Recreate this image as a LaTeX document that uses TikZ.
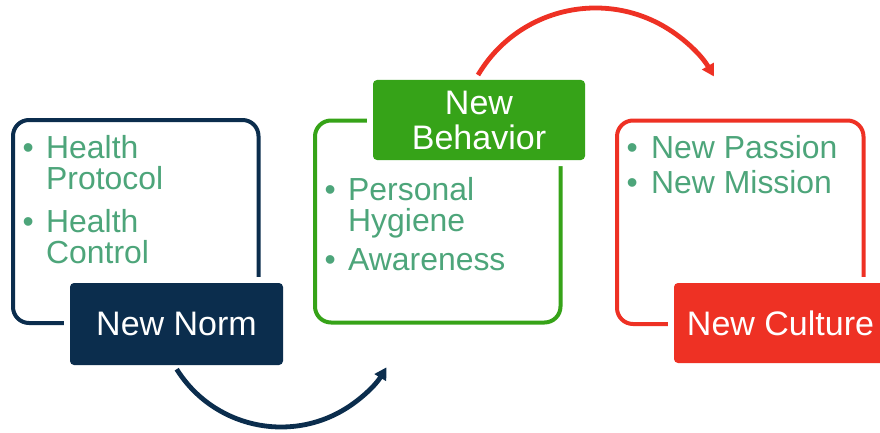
\documentclass[tikz,border=0pt]{standalone}
\usepackage{fontspec}
\setmainfont{Liberation Sans}
\usetikzlibrary{arrows.meta}
\definecolor{navy}{HTML}{0B2D4D}
\definecolor{grn}{HTML}{36A318}
\definecolor{rd}{HTML}{EE3124}
\definecolor{txtg}{HTML}{4DA57A}
\tikzset{
  frame/.style={draw, line width=4pt, rounded corners=16pt, inner sep=0pt},
  tag/.style={rounded corners=4pt, text=white, inner sep=0pt,
    font=\fontsize{34}{35}\selectfont, align=center,
    preaction={draw=white, line width=12pt}},
  itm/.style={anchor=base west, inner sep=0pt, text=txtg,
    font=\fontsize{31.9}{31}\selectfont},
  flow/.style={line width=4.8pt, -{Triangle[length=12pt,width=13pt]}}
}
\begin{document}
\begin{tikzpicture}[x=1pt,y=1pt]
\useasboundingbox (0,0) rectangle (880,432);
\clip (0,0) rectangle (880,432);
% frames
\node[frame, draw=navy, minimum width=245.5pt, minimum height=203pt] (f1) at (135.75,210.5) {};
\node[frame, draw=grn, minimum width=245.5pt, minimum height=202pt] (f2) at (437.75,210.5) {};
\node[frame, draw=rd, minimum width=246.5pt, minimum height=203.5pt] (f3) at (740.25,209.75) {};
% labels
\node[tag, fill=navy, minimum width=213pt, minimum height=82pt] (l1) at (176.5,108) {New Norm};
\node[tag, fill=grn, minimum width=212pt, minimum height=80pt] (l2) at (479,312) {New\\Behavior};
\node[tag, fill=rd, minimum width=213pt, minimum height=80pt] (l3) at (780.5,109) {New Culture};
% items box 1
\node[itm] (b11) at (22.5,274) {•};
\node[itm] (t11) at (46,274) {Health};
\node[itm] (t12) at (46,243) {Protocol};
\node[itm] (b12) at (22.5,200) {•};
\node[itm] (t13) at (46,200) {Health};
\node[itm] (t14) at (46,169) {Control};
% items box 2
\node[itm] (b21) at (324.5,232) {•};
\node[itm] (t21) at (348,232) {Personal};
\node[itm] (t22) at (348,201) {Hygiene};
\node[itm] (b22) at (324.5,162) {•};
\node[itm] (t23) at (348,162) {Awareness};
% items box 3
\node[itm] (b31) at (626.5,274) {•};
\node[itm] (t31) at (651,274) {New Passion};
\node[itm] (b32) at (626.5,239) {•};
\node[itm] (t32) at (651,239) {New Mission};
% connectors
\path (281,128) ++(212:123) coordinate (a1s);
\path (595.5,287.5) ++(149.4:136.5) coordinate (a2s);
\draw[flow, navy] (a1s) arc[start angle=212, end angle=329, radius=123];
\draw[flow, rd] (a2s) arc[start angle=149.4, end angle=29.9, radius=136.5];
\end{tikzpicture}
\end{document}
